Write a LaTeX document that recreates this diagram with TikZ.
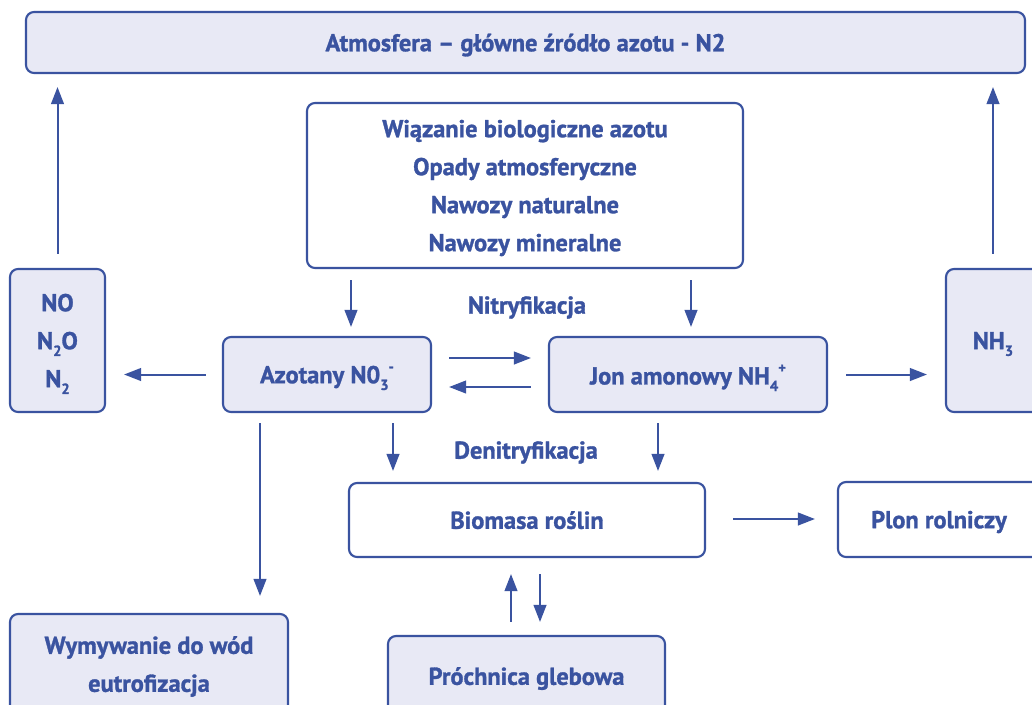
\documentclass[tikz,border=0pt]{standalone}
\usepackage{fontspec}
\setmainfont{PT Sans}[BoldFeatures={FakeBold=1.2}]
\usetikzlibrary{arrows.meta}
\definecolor{nblue}{HTML}{3A53A0}
\definecolor{nfill}{HTML}{E8E9F5}
\newcommand{\mysub}[1]{\raisebox{-0.55ex}{\fontsize{11}{11}\selectfont #1}}
\newcommand{\mysup}[1]{\raisebox{0.95ex}{\fontsize{11}{11}\selectfont #1}}
\begin{document}
\begin{tikzpicture}[x=0.75pt,y=-0.75pt,
  box/.style={draw=nblue, line width=1.6pt, rounded corners=6pt, inner sep=0pt,
    text=nblue, font=\bfseries\fontsize{18.3}{22}\selectfont, align=center, text depth=0pt},
  fbox/.style={box, fill=nfill},
  wbox/.style={box, fill=white},
  lbl/.style={text=nblue, font=\bfseries\fontsize{18.3}{22}\selectfont, inner sep=0pt, text depth=0pt},
  arr/.style={draw=nblue, line width=1.5pt, -{Triangle[length=12.75pt,width=9.5pt]}}]
\clip (0,0) rectangle (1032,704);
\fill[white] (0,0) rectangle (1032,704);
% boxes
\node[fbox, minimum width=749.25pt, minimum height=45.75pt] (atm) at (525.5,42.5) {Atmosfera – główne źródło azotu - N2};
\node[wbox, minimum width=327pt, minimum height=123.75pt] (src) at (525,185.5) {Wiązanie biologiczne azotu\\[6.5pt]Opady atmosferyczne\\[6.5pt]Nawozy naturalne\\[6.5pt]Nawozy mineralne};
\node[fbox, minimum width=71.25pt, minimum height=107.25pt] (nox) at (57.5,340.5) {NO\\[6.5pt]N\mysub{2}O\\[6.5pt]N\mysub{2}};
\node[fbox, minimum width=156pt, minimum height=56.25pt] (azot) at (327,374.5) {Azotany N0\mysub{3}\mysup{-}};
\node[fbox, minimum width=208.5pt, minimum height=56.25pt] (jon) at (688,374.5) {Jon amonowy NH\mysub{4}\mysup{+}};
\node[fbox, minimum width=70.5pt, minimum height=107.25pt] (nh3) at (993,340.5) {NH\mysub{3}};
\node[wbox, minimum width=267pt, minimum height=55.5pt] (bio) at (527,520) {Biomasa roślin};
\node[wbox, minimum width=151.5pt, minimum height=56.25pt] (plon) at (939,519.5) {Plon rolniczy};
\node[fbox, minimum width=208.5pt, minimum height=75pt] (wym) at (149,664) {Wymywanie do wód\\[6.5pt]eutrofizacja};
\node[fbox, minimum width=207.75pt, minimum height=60pt] (proch) at (526.5,676) {Próchnica glebowa};
% labels
\node[lbl] (nitr) at (527,305) {Nitryfikacja};
\node[lbl] (denitr) at (526,450) {Denitryfikacja};
% column / row helpers
\coordinate (c351) at (351,0);
\coordinate (c691) at (691,0);
\coordinate (c393) at (393,0);
\coordinate (c658) at (658,0);
\coordinate (c260) at (260,0);
\coordinate (c511) at (511,0);
\coordinate (c540) at (540,0);
\coordinate (r358) at (0,358);
\coordinate (r387) at (0,387);
\coordinate (r519) at (0,519);
% arrows
\draw[arr, shorten <=10.5pt, shorten >=9.75pt] (nox.north) -- (nox.north |- atm.south);
\draw[arr, shorten <=10.5pt, shorten >=9.75pt] (nh3.north) -- (nh3.north |- atm.south);
\draw[arr, shorten <=8.25pt, shorten >=6.75pt] (src.south -| c351) -- (azot.north -| c351);
\draw[arr, shorten <=8.25pt, shorten >=6.75pt] (src.south -| c691) -- (jon.north -| c691);
\draw[arr, shorten <=12pt, shorten >=13.5pt] (azot.west) -- (azot.west -| nox.east);
\draw[arr, shorten <=12.75pt, shorten >=12.75pt] (azot.east |- r358) -- (jon.west |- r358);
\draw[arr, shorten <=12.75pt, shorten >=12.75pt] (jon.west |- r387) -- (azot.east |- r387);
\draw[arr, shorten <=13.5pt, shorten >=13.5pt] (jon.east) -- (jon.east -| nh3.west);
\draw[arr, shorten <=7.5pt, shorten >=8.25pt] (azot.south -| c393) -- (bio.north -| c393);
\draw[arr, shorten <=7.5pt, shorten >=8.25pt] (jon.south -| c658) -- (bio.north -| c658);
\draw[arr, shorten <=7.5pt, shorten >=12.75pt] (azot.south -| c260) -- (wym.north -| c260);
\draw[arr, shorten <=9.75pt, shorten >=12pt] (proch.north -| c511) -- (bio.south -| c511);
\draw[arr, shorten <=12pt, shorten >=9.75pt] (bio.south -| c540) -- (proch.north -| c540);
\draw[arr, shorten <=20.25pt, shorten >=16.5pt] (bio.east |- r519) -- (plon.west |- r519);
\end{tikzpicture}
\end{document}
